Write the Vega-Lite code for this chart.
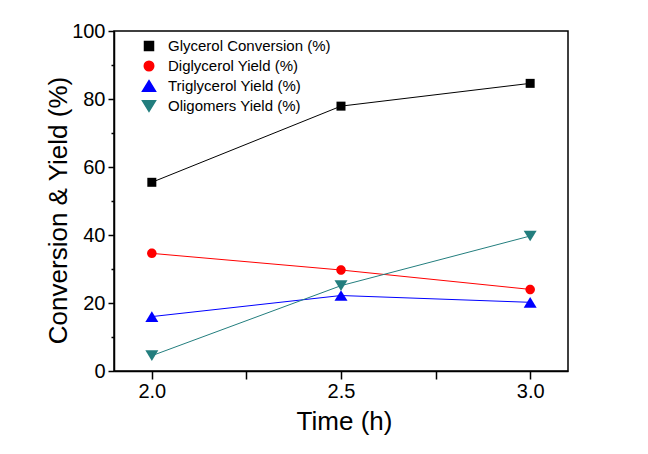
{
  "$schema": "https://vega.github.io/schema/vega-lite/v6.json",
  "width": 454,
  "height": 340,
  "autosize": {"type": "none"},
  "padding": {"left": 114, "top": 31, "right": 80, "bottom": 83},
  "background": "white",
  "config": {
    "view": {"stroke": "#000000", "strokeWidth": 1.5},
    "font": "Liberation Sans",
    "axis": {"domainColor": "#000000", "domainWidth": 1.5, "tickColor": "#000000", "tickWidth": 1.5, "grid": false, "labelColor": "#000000", "titleColor": "#000000", "labelFont": "Liberation Sans", "titleFont": "Liberation Sans", "titleFontWeight": "normal"},
    "legend": {"orient": "none", "legendX": 27.5, "legendY": 7.5, "labelFont": "Liberation Sans", "labelFontSize": 15, "labelColor": "#000000", "labelOffset": 11.5, "labelLimit": 400, "rowPadding": 3, "symbolSize": 100}
  },
  "data": {
    "values": [
      {"series": "Glycerol Conversion (%)", "time": 2.0, "value": 55.5},
      {"series": "Glycerol Conversion (%)", "time": 2.5, "value": 77.9},
      {"series": "Glycerol Conversion (%)", "time": 3.0, "value": 84.6},
      {"series": "Diglycerol Yield (%)", "time": 2.0, "value": 34.6},
      {"series": "Diglycerol Yield (%)", "time": 2.5, "value": 29.7},
      {"series": "Diglycerol Yield (%)", "time": 3.0, "value": 24.0},
      {"series": "Triglycerol Yield (%)", "time": 2.0, "value": 16.0},
      {"series": "Triglycerol Yield (%)", "time": 2.5, "value": 22.2},
      {"series": "Triglycerol Yield (%)", "time": 3.0, "value": 20.2},
      {"series": "Oligomers Yield (%)", "time": 2.0, "value": 4.5},
      {"series": "Oligomers Yield (%)", "time": 2.5, "value": 25.1},
      {"series": "Oligomers Yield (%)", "time": 3.0, "value": 39.7}
    ]
  },
  "resolve": {"axis": {"y": "independent"}},
  "layer": [
    {
      "mark": {"type": "line", "strokeWidth": 1, "clip": true},
      "encoding": {
        "x": {"field": "time", "type": "quantitative", "scale": {"domain": [1.9, 3.1], "nice": false, "zero": false},
          "axis": {"values": [2, 2.25, 2.5, 2.75, 3], "labelExpr": "datum.value % 0.5 === 0 ? format(datum.value, '.1f') : ''", "tickSize": 8, "labelPadding": 2, "labelFontSize": 20, "title": "Time (h)", "titleFontSize": 26, "titleX": 230, "titleY": 58, "titleBaseline": "alphabetic", "titleAlign": "center", "labelFlush": false}},
        "y": {"field": "value", "type": "quantitative", "scale": {"domain": [0, 100], "nice": false},
          "axis": {"orient": "left", "values": [0, 20, 40, 60, 80, 100], "tickSize": 6, "labelPadding": 3, "labelFontSize": 20, "title": "Conversion & Yield (%)", "titleFontSize": 26, "titleX": -48, "titleY": 179, "titleBaseline": "alphabetic", "titleAlign": "center", "titleAngle": -90, "labelFlush": false}},
        "color": {"field": "series", "type": "nominal",
          "scale": {"domain": ["Glycerol Conversion (%)", "Diglycerol Yield (%)", "Triglycerol Yield (%)", "Oligomers Yield (%)"], "range": ["#000000", "#FF0000", "#0000FF", "#237E7E"]},
          "legend": {"title": null}}
      }
    },
    {
      "mark": {"type": "point", "filled": true, "size": 100, "opacity": 1},
      "encoding": {
        "x": {"field": "time", "type": "quantitative"},
        "y": {"field": "value", "type": "quantitative",
          "axis": {"orient": "left", "values": [10, 30, 50, 70, 90], "tickSize": 3, "labels": false, "domain": false, "title": null}},
        "color": {"field": "series", "type": "nominal", "legend": {"title": null}},
        "shape": {"field": "series", "type": "nominal", "legend": null,
          "scale": {"domain": ["Glycerol Conversion (%)", "Diglycerol Yield (%)", "Triglycerol Yield (%)", "Oligomers Yield (%)"],
            "range": ["M-0.9,-0.9H0.9V0.9H-0.9Z", "M-0.95,0A0.95,0.95,0,1,1,0.95,0A0.95,0.95,0,1,1,-0.95,0Z", "M0,-1.07L1.3,1.07L-1.3,1.07Z", "M-1.3,-1.07L1.3,-1.07L0,1.07Z"]}}
      }
    }
  ]
}
